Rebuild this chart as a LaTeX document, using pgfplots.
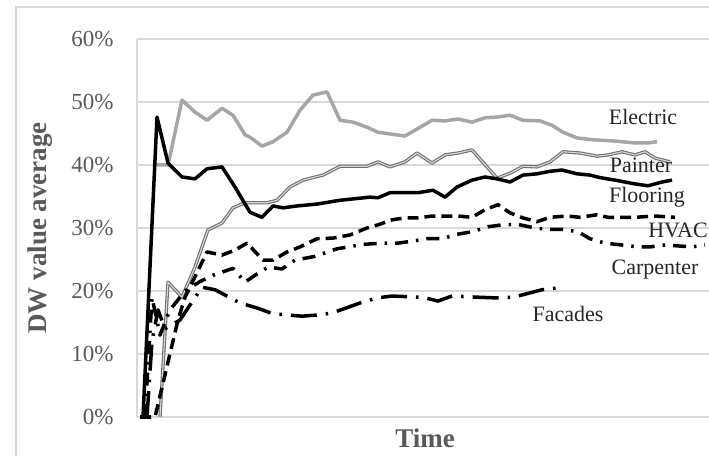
\documentclass[border=0pt]{standalone}
\usepackage{pgfplots}
\pgfplotsset{compat=1.18}
\usepackage{fontspec}
\setmainfont{Liberation Serif}
\definecolor{tickgray}{HTML}{595959}
\definecolor{gridgray}{HTML}{D9D9D9}
\definecolor{elecgray}{HTML}{A6A6A6}
\definecolor{paintgray}{HTML}{6E6E6E}
\definecolor{labtext}{HTML}{262626}
\begin{document}
\begin{tikzpicture}
\useasboundingbox (0,0) rectangle (709bp,456bp);
\draw[gridgray, line width=1.5bp] (16bp,-5bp) -- (16bp,449bp) -- (720bp,449bp);
\begin{axis}[
  at={(137bp,39bp)}, anchor=south west,
  scale only axis, width=572bp, height=378bp,
  xmin=137, xmax=709, ymin=0, ymax=60,
  axis line style={draw=none},
  xtick=\empty,
  ytick={0,10,20,30,40,50,60},
  yticklabel={\pgfmathprintnumber{\tick}\%},
  /pgf/number format/assume math mode=true,
  yticklabel style={font=\fontsize{23bp}{26bp}\selectfont, text=tickgray, anchor=east, xshift=-20bp},
  major tick length=0pt,
  ymajorgrids, grid style={gridgray, line width=1.5bp},
  clip=false,
]
\draw[gridgray, line width=1.5bp] (rel axis cs:0,0) -- (rel axis cs:0,1);
% Electric
\addplot[elecgray, line width=3.5bp, line join=round] coordinates {
(155,40) (168,40) (182,50.3) (195,48.4) (207,47.1) (222,49.0) (233,47.9) (245,44.8)
(250,44.4) (262,43.0) (273,43.7) (287,45.2) (300,48.7) (313,51.1) (327,51.6) (340,47.1)
(353,46.8) (367,46.0) (378,45.2) (405,44.6) (432,47.1) (445,47.0) (458,47.3) (472,46.8)
(485,47.5) (497,47.6) (510,47.9) (523,47.1) (540,47.0) (552,46.3) (563,45.2) (577,44.3)
(593,44.0) (615,43.8) (635,43.5) (648,43.5) (657,43.7)};
% Painter
\addplot[paintgray, line width=1.1bp, double=white!85!black, double distance=1.1bp, line join=round] coordinates {
(160,0) (168,21.4) (182,19.0) (195,23.8) (208,29.7) (222,30.8) (233,33.2) (245,34.0)
(267,34.0) (277,34.4) (290,36.5) (303,37.6) (323,38.4) (340,39.8) (367,39.8) (378,40.5)
(390,39.7) (405,40.5) (417,41.9) (432,40.3) (445,41.6) (458,41.9) (472,42.4) (497,37.9)
(510,38.7) (523,39.8) (537,39.7) (550,40.5) (563,42.1) (580,41.9) (597,41.4) (608,41.6)
(622,42.1) (635,41.6) (645,42.1) (655,41.1) (670,40.5)};
% Flooring
\addplot[black, line width=3.5bp, line join=round] coordinates {
(143,0) (157,47.6) (168,40.3) (182,38.1) (195,37.8) (207,39.4) (222,39.7) (235,36.5)
(250,32.5) (262,31.7) (273,33.5) (283,33.2) (297,33.5) (317,33.8) (340,34.4) (370,34.9)
(378,34.8) (390,35.6) (418,35.6) (433,36.0) (445,34.9) (457,36.5) (472,37.6) (485,38.1)
(497,37.8) (510,37.3) (523,38.4) (537,38.6) (550,39.0) (562,39.2) (577,38.6) (590,38.4)
(600,38.0) (615,37.6) (635,37.0) (648,36.7) (662,37.3) (672,37.6)};
% HVAC
\addplot[black, line width=3.5bp, dash pattern=on 11bp off 6bp, line join=round] coordinates {
(140,0) (155,0) (178,15.4) (185,19.0) (207,26.2) (222,25.7) (235,26.5) (247,27.6)
(263,24.9) (273,24.9) (287,26.2) (300,27.0) (317,28.3) (333,28.4) (350,28.9) (367,30.0)
(378,30.5) (392,31.3) (405,31.6) (418,31.6) (432,31.9) (458,31.9) (472,31.7) (485,32.9)
(498,33.7) (510,32.4) (523,31.6) (537,31.0) (550,31.7) (567,31.9) (580,31.7) (597,32.1)
(608,31.7) (635,31.7) (655,31.9) (675,31.7)};
% Carpenter
\addplot[black, line width=3.5bp, dash pattern=on 13bp off 8bp on 2.5bp off 8bp, line join=round] coordinates {
(145,0) (152,19) (160,13) (170,17) (185,20) (200,21.5) (213,22.5) (233,23.6)
(245,21.4) (255,22.5) (268,23.8) (282,23.5) (295,24.9) (315,25.5) (337,26.7) (363,27.4)
(382,27.6) (398,27.6) (412,27.9) (427,28.3) (442,28.3) (457,29.0) (472,29.4) (488,30.2)
(502,30.5) (517,30.6) (535,30.0) (547,29.8) (562,29.8) (578,29.4) (590,28.3) (605,27.6)
(622,27.3) (638,27.0) (650,27.0) (665,27.3) (692,27.0) (705,27.3)};
% Facades
\addplot[black, line width=3.5bp, dash pattern=on 26bp off 9bp on 2.5bp off 9bp, line join=round] coordinates {
(147,0) (152,12) (158,17) (165,14) (180,15.4) (202,20.6) (215,20.2) (240,18.1)
(257,17.3) (273,16.4) (302,16.0) (318,16.2) (332,16.5) (360,18.1) (377,18.9) (392,19.2)
(423,19.0) (438,18.4) (452,19.2) (480,19.0) (497,18.9) (513,19.0) (542,20.2) (558,20.5)};
\end{axis}
\begin{scope}[every node/.style={font=\fontsize{22bp}{25bp}\selectfont, text=labtext, inner sep=0pt}]
\node at (643bp,339bp) {Electric};
\node at (641bp,291bp) {Painter};
\node at (647bp,259bp) {Flooring};
\node at (678bp,226bp) {HVAC};
\node at (655bp,186bp) {Carpenter};
\node at (568bp,142bp) {Facades};
\end{scope}
\node[rotate=90, font=\bfseries\fontsize{27bp}{30bp}\selectfont, text=tickgray, inner sep=0pt] at (40bp,228bp) {DW value average};
\node[font=\bfseries\fontsize{27bp}{30bp}\selectfont, text=tickgray, inner sep=0pt] at (425bp,18bp) {Time};
\end{tikzpicture}
\end{document}
